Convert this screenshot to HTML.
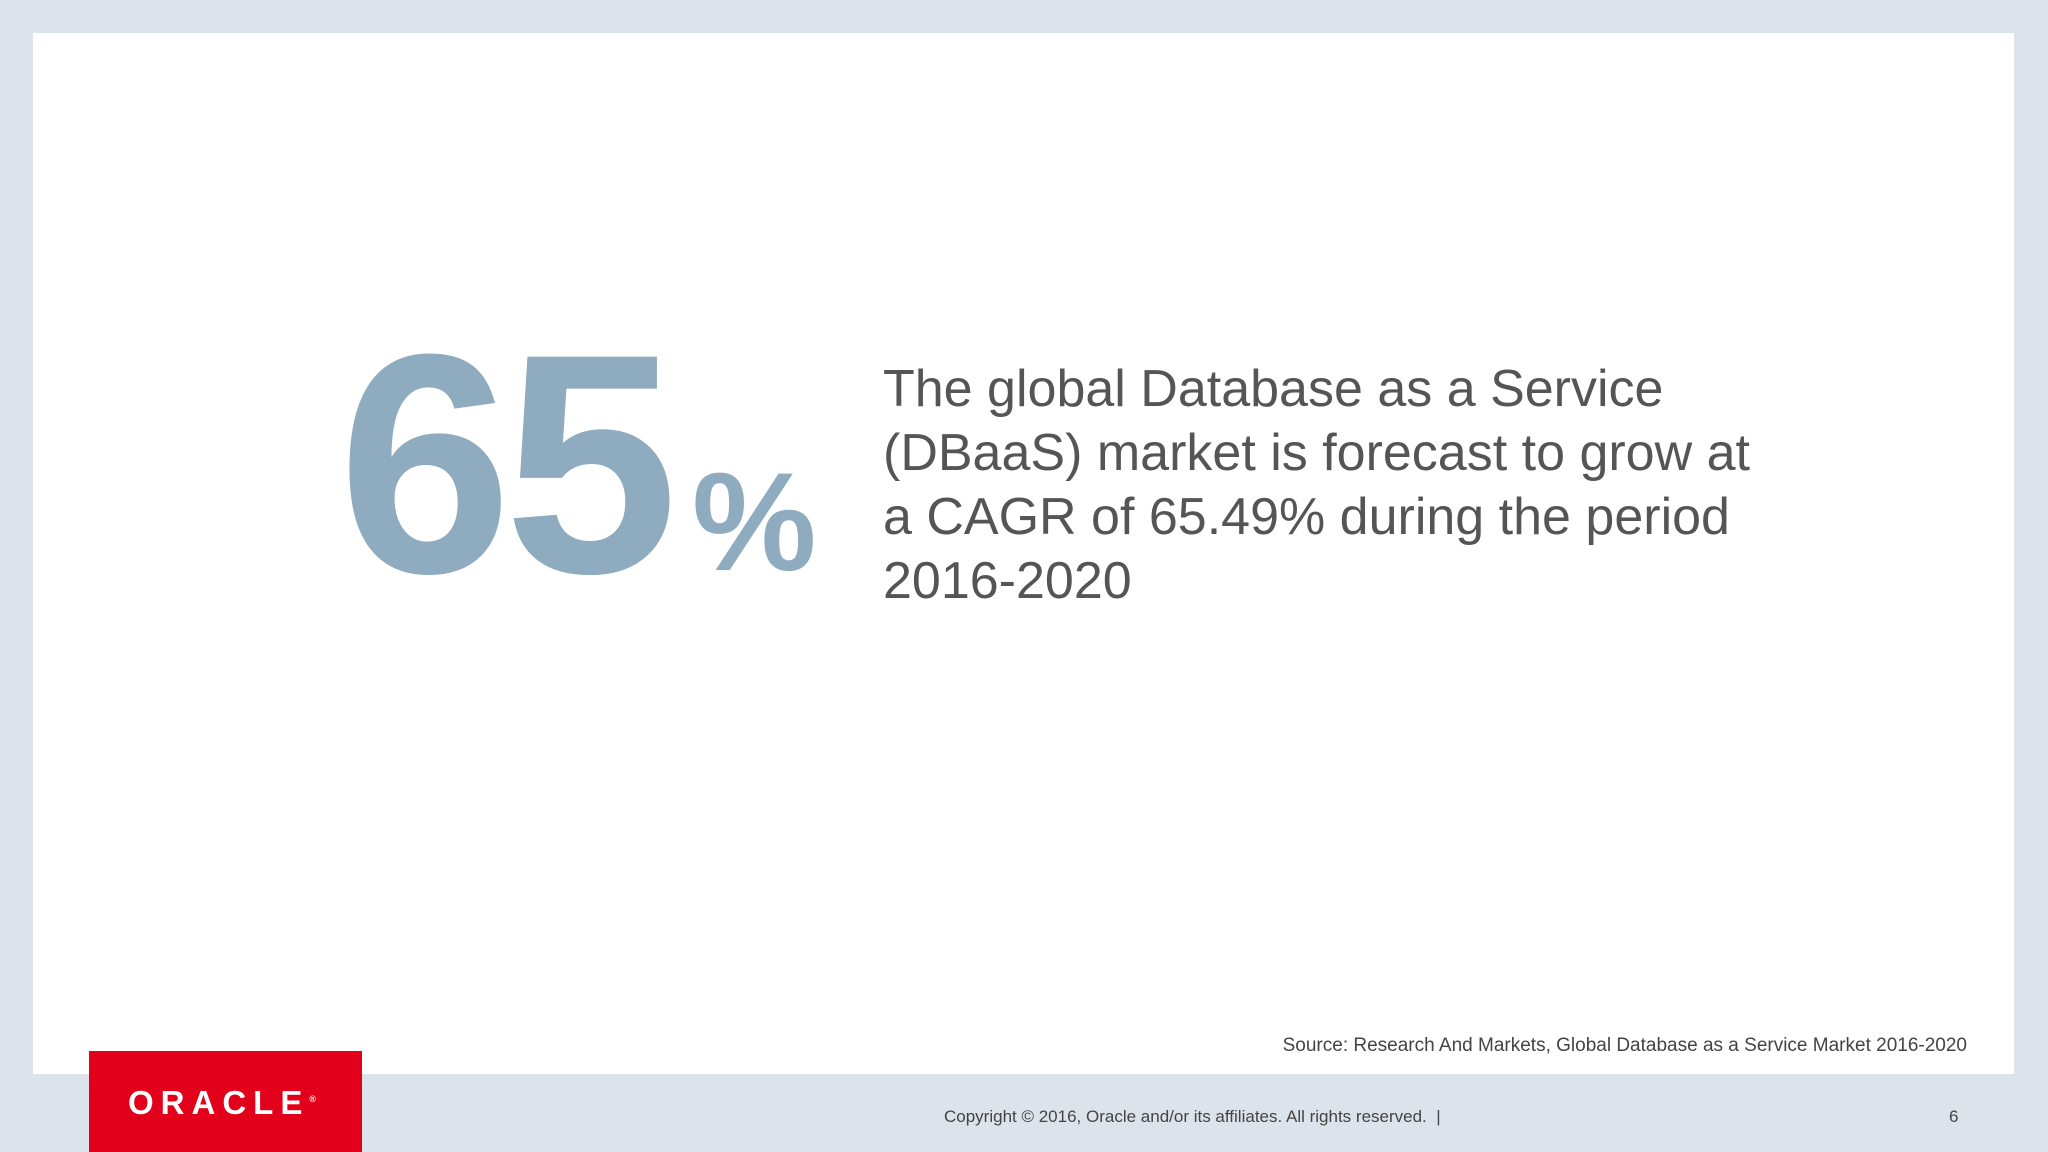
<!DOCTYPE html>
<html><head><meta charset="utf-8"><style>
*{margin:0;padding:0;box-sizing:border-box}
body{width:2048px;height:1152px;background:#dde3ea;position:relative;overflow:hidden;font-family:"Liberation Sans",sans-serif}
.abs{position:absolute;white-space:nowrap}
</style></head><body>
<div class="abs" style="left:33px;top:33px;width:1981px;height:1041px;background:#fff"></div>
<div class="abs" style="left:338px;top:308px;font-size:313px;font-weight:bold;color:#8eabbf;letter-spacing:-8px;line-height:1">65</div>
<div class="abs" style="left:692px;top:452px;font-size:140px;font-weight:bold;color:#8eabbf;line-height:1;letter-spacing:-4px">%</div>
<div class="abs" style="left:883px;top:357px;font-size:52px;color:#555;line-height:64px">The global Database as a Service<br>(DBaaS) market is forecast to grow at<br>a CAGR of 65.49% during the period<br>2016-2020</div>
<div class="abs" style="right:81px;top:1035px;font-size:19px;color:#444">Source: Research And Markets, Global Database as a Service Market 2016-2020</div>
<div class="abs" style="left:89px;top:1051px;width:273px;height:101px;background:#e2001a"></div>
<div class="abs" style="left:128px;top:1084px;font-size:33px;font-weight:bold;color:#fff;letter-spacing:7px">ORACLE<sup style="font-size:9px;letter-spacing:0">®</sup></div>
<div class="abs" style="left:944px;top:1107px;font-size:17px;color:#444">Copyright © 2016, Oracle and/or its affiliates. All rights reserved. &nbsp;|</div>
<div class="abs" style="left:1949px;top:1107px;font-size:17px;color:#444">6</div>
</body></html>
